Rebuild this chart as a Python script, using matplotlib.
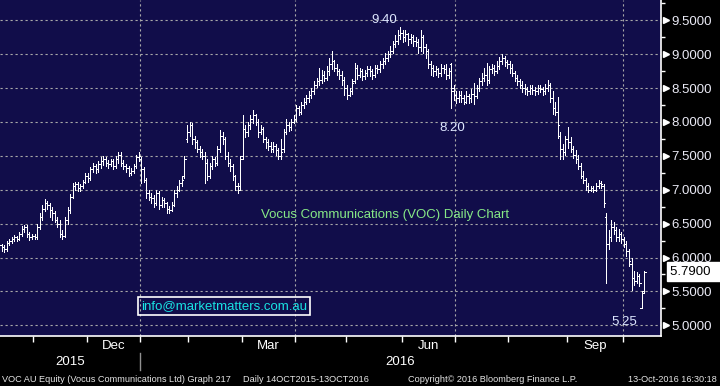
import numpy as np
import pandas as pd
import matplotlib
matplotlib.use('Agg')
import matplotlib.pyplot as plt
from matplotlib.collections import LineCollection
from matplotlib.transforms import blended_transform_factory as blend

plt.rcParams['font.family'] = ['Liberation Sans', 'DejaVu Sans']

# ASX trading days 14-Oct-2015 .. 13-Oct-2016
holidays = ['2015-12-25', '2015-12-28', '2016-01-01', '2016-01-26',
            '2016-03-25', '2016-03-28', '2016-04-25', '2016-06-13']
dates = pd.bdate_range('2015-10-14', '2016-10-13')
dates = dates[~dates.isin(pd.to_datetime(holidays))]

opens = np.array("""
6.18 6.15 6.12 6.22 6.25 6.28 6.30 6.28 6.35 6.42
6.45 6.35 6.30 6.32 6.30 6.45 6.60 6.72 6.80 6.78
6.70 6.65 6.55 6.50 6.35 6.32 6.55 6.70 6.90 7.05
7.08 7.02 7.05 7.12 7.20 7.18 7.30 7.35 7.30 7.38
7.42 7.45 7.40 7.38 7.42 7.35 7.45 7.52 7.40 7.35
7.32 7.25 7.28 7.35 7.48 7.45 7.30 7.15 6.95 6.90
6.88 6.80 6.95 6.78 6.85 6.80 6.72 6.70 6.78 6.95
7.00 7.10 7.20 7.75 7.85 7.95 7.75 7.70 7.60 7.55
7.50 7.40 7.20 7.35 7.45 7.40 7.60 7.80 7.75 7.50
7.40 7.35 7.20 7.05 7.05 7.50 7.90 7.85 7.95 8.05
8.10 8.00 7.85 7.90 7.75 7.70 7.65 7.60 7.65 7.58
7.50 7.60 7.85 7.95 7.92 8.00 8.05 8.20 8.15 8.25
8.30 8.35 8.40 8.45 8.55 8.60 8.62 8.70 8.65 8.75
8.85 8.90 8.80 8.75 8.70 8.62 8.50 8.40 8.45 8.60
8.80 8.70 8.75 8.68 8.72 8.78 8.75 8.70 8.80 8.78
8.85 8.90 8.95 9.00 9.05 9.15 9.20 9.28 9.32 9.25
9.30 9.22 9.25 9.20 9.18 9.10 9.25 9.10 9.05 8.85
8.80 8.75 8.78 8.72 8.80 8.78 8.70 8.85 8.50 8.40
8.35 8.40 8.35 8.30 8.38 8.35 8.42 8.38 8.50 8.60
8.65 8.70 8.62 8.78 8.80 8.75 8.82 8.90 8.95 8.88
8.85 8.80 8.72 8.65 8.60 8.55 8.50 8.48 8.45 8.50
8.47 8.45 8.50 8.48 8.45 8.50 8.55 8.35 8.20 8.15
7.80 7.60 7.55 7.75 7.70 7.60 7.52 7.45 7.35 7.20
7.15 7.05 7.00 7.02 7.00 7.05 7.10 7.05 6.60 6.20
6.30 6.45 6.40 6.30 6.35 6.28 6.20 6.10 5.90 5.70
5.65 5.72 5.25 5.50
""".split(), float)

highs = np.array("""
6.20 6.18 6.25 6.28 6.30 6.33 6.32 6.38 6.46 6.48
6.48 6.38 6.35 6.35 6.50 6.65 6.78 6.87 6.84 6.80
6.75 6.68 6.60 6.55 6.40 6.60 6.75 6.93 7.10 7.12
7.12 7.08 7.15 7.24 7.24 7.34 7.40 7.38 7.42 7.48
7.50 7.48 7.44 7.46 7.45 7.50 7.56 7.55 7.44 7.38
7.35 7.32 7.38 7.52 7.55 7.48 7.33 7.18 7.00 6.95
6.92 7.00 6.98 6.90 6.88 6.82 6.76 6.82 7.00 7.05
7.14 7.20 7.50 7.95 8.00 7.98 7.80 7.74 7.65 7.60
7.55 7.45 7.40 7.50 7.48 7.65 7.88 7.85 7.78 7.55
7.45 7.38 7.22 7.10 7.50 8.10 7.95 8.00 8.10 8.17
8.12 8.05 7.95 7.92 7.78 7.75 7.70 7.70 7.68 7.62
7.75 7.90 8.05 8.00 8.05 8.10 8.25 8.24 8.30 8.35
8.40 8.45 8.50 8.60 8.65 8.80 8.76 8.75 8.82 8.95
9.05 8.92 8.85 8.78 8.75 8.66 8.55 8.50 8.64 8.87
8.84 8.80 8.78 8.76 8.82 8.82 8.78 8.84 8.84 8.90
8.95 9.02 9.05 9.12 9.20 9.28 9.35 9.40 9.36 9.35
9.32 9.30 9.28 9.25 9.22 9.35 9.28 9.15 9.08 8.90
8.84 8.82 8.80 8.85 8.84 8.85 8.80 8.87 8.55 8.45
8.46 8.45 8.40 8.45 8.42 8.48 8.58 8.55 8.65 8.72
8.80 8.87 8.82 8.86 8.84 8.90 8.96 9.00 8.97 8.92
8.90 8.85 8.75 8.70 8.64 8.60 8.56 8.52 8.55 8.55
8.52 8.55 8.54 8.52 8.56 8.62 8.58 8.45 8.30 8.37
7.85 7.68 7.80 7.92 7.78 7.65 7.58 7.52 7.40 7.28
7.18 7.10 7.06 7.05 7.10 7.14 7.13 7.08 6.65 6.40
6.55 6.52 6.45 6.42 6.38 6.30 6.25 6.12 6.00 5.80
5.78 5.76 5.50 5.80
""".split(), float)

lows = np.array("""
6.10 6.08 6.10 6.18 6.22 6.24 6.24 6.26 6.32 6.38
6.30 6.26 6.27 6.27 6.28 6.42 6.56 6.68 6.72 6.60
6.55 6.52 6.45 6.30 6.28 6.30 6.50 6.66 6.88 7.00
6.98 6.98 7.02 7.10 7.12 7.15 7.26 7.25 7.26 7.32
7.36 7.35 7.32 7.35 7.30 7.32 7.40 7.35 7.30 7.26
7.20 7.22 7.25 7.32 7.42 7.10 7.12 6.88 6.85 6.80
6.74 6.78 6.72 6.74 6.75 6.66 6.65 6.68 6.76 6.90
6.98 7.05 7.18 7.70 7.80 7.68 7.62 7.55 7.48 7.45
7.10 7.15 7.18 7.30 7.35 7.36 7.55 7.68 7.45 7.35
7.28 7.15 7.00 6.95 7.00 7.45 7.78 7.80 7.90 7.98
7.95 7.78 7.82 7.70 7.62 7.58 7.55 7.56 7.52 7.45
7.45 7.55 7.82 7.86 7.88 7.98 8.02 8.10 8.12 8.20
8.26 8.30 8.35 8.42 8.52 8.55 8.58 8.60 8.62 8.70
8.78 8.75 8.70 8.64 8.55 8.40 8.34 8.38 8.42 8.58
8.64 8.66 8.62 8.64 8.68 8.68 8.64 8.66 8.72 8.74
8.80 8.86 8.90 8.96 9.02 9.10 9.15 9.22 9.18 9.20
9.14 9.16 9.12 9.12 9.02 9.05 9.02 8.95 8.80 8.70
8.68 8.70 8.66 8.68 8.72 8.64 8.65 8.20 8.32 8.28
8.30 8.30 8.26 8.28 8.28 8.30 8.27 8.35 8.46 8.55
8.60 8.55 8.58 8.72 8.70 8.72 8.78 8.85 8.82 8.80
8.73 8.68 8.60 8.55 8.50 8.44 8.42 8.40 8.42 8.42
8.40 8.42 8.44 8.40 8.42 8.45 8.30 8.12 8.10 7.77
7.45 7.45 7.52 7.62 7.55 7.47 7.40 7.30 7.17 7.10
7.00 6.97 6.98 6.97 6.98 7.02 7.02 6.75 5.62 6.12
6.25 6.35 6.25 6.25 6.22 6.15 6.02 5.88 5.52 5.60
5.62 5.58 5.25 5.48
""".split(), float)

closes = np.array("""
6.15 6.12 6.22 6.25 6.28 6.30 6.28 6.35 6.42 6.45
6.35 6.30 6.32 6.30 6.45 6.60 6.72 6.80 6.78 6.70
6.65 6.55 6.50 6.35 6.32 6.55 6.70 6.90 7.05 7.08
7.02 7.05 7.12 7.20 7.18 7.30 7.35 7.30 7.38 7.42
7.45 7.40 7.38 7.42 7.35 7.45 7.52 7.40 7.35 7.32
7.25 7.28 7.35 7.48 7.50 7.30 7.15 6.95 6.90 6.88
6.80 6.95 6.78 6.85 6.80 6.72 6.70 6.78 6.95 7.00
7.10 7.15 7.45 7.85 7.95 7.75 7.70 7.60 7.55 7.50
7.40 7.20 7.35 7.45 7.40 7.60 7.80 7.75 7.50 7.40
7.35 7.20 7.05 7.00 7.45 7.90 7.85 7.95 8.05 8.10
8.00 7.85 7.90 7.75 7.70 7.65 7.60 7.65 7.58 7.50
7.55 7.85 7.95 7.92 8.00 8.05 8.20 8.15 8.25 8.30
8.35 8.40 8.45 8.55 8.60 8.62 8.70 8.65 8.75 8.85
8.90 8.80 8.75 8.70 8.62 8.50 8.40 8.45 8.58 8.80
8.70 8.75 8.68 8.72 8.78 8.75 8.70 8.80 8.78 8.85
8.90 8.95 9.00 9.05 9.15 9.20 9.28 9.32 9.25 9.30
9.22 9.25 9.20 9.18 9.10 9.25 9.10 9.05 8.85 8.80
8.75 8.78 8.72 8.80 8.78 8.70 8.75 8.45 8.40 8.35
8.40 8.35 8.30 8.38 8.35 8.42 8.38 8.50 8.60 8.65
8.70 8.62 8.78 8.80 8.75 8.82 8.90 8.95 8.88 8.85
8.80 8.72 8.65 8.60 8.55 8.50 8.48 8.45 8.50 8.47
8.45 8.50 8.48 8.45 8.50 8.55 8.35 8.20 8.15 7.95
7.60 7.55 7.75 7.70 7.60 7.52 7.45 7.35 7.20 7.15
7.05 7.00 7.02 7.00 7.05 7.10 7.08 6.80 6.20 6.30
6.45 6.40 6.30 6.35 6.28 6.20 6.10 5.95 5.70 5.65
5.72 5.62 5.47 5.79
""".split(), float)

last_price = 5.79
price_ticks = np.arange(5.0, 9.51, 0.5)

navy = '#110d4a'
fig = plt.figure(figsize=(7.2, 3.86), dpi=100, facecolor='black')
ax = fig.add_axes([0, 50 / 386, 661 / 720, 336 / 386])
ax.set_facecolor(navy)
ax.set_xlim(-0.6, 259.6)
ax.set_ylim(4.842, 9.80)

# OHLC bars
x = np.arange(len(dates))
w = 0.55
segs = []
for i in x:
    segs.append([(i, lows[i]), (i, highs[i])])
    segs.append([(i - w, opens[i]), (i, opens[i])])
    segs.append([(i, closes[i]), (i + w, closes[i])])
ax.add_collection(LineCollection(segs, colors='white', linewidths=0.6,
                                 antialiaseds=False, zorder=3))

# month boundaries
mon = dates.month.values
bounds = [i - 0.5 for i in range(1, len(dates)) if mon[i] != mon[i - 1]]
bmon = [mon[int(b + 0.5)] for b in bounds]
ax.set_xticks(bounds)
ax.tick_params(axis='x', length=4, width=1, color='white', direction='out', labelbottom=False)
for b, m in zip(bounds, bmon):
    if m in (1, 4, 7, 10):
        ax.axvline(b, color='#a8a8a8', lw=0.8, ls=(0, (2, 2.5)), zorder=1)
for p in price_ticks:
    ax.axhline(p, color='#a8a8a8', lw=0.8, ls=(0, (2, 2.5)), zorder=1)

# month / year labels
tb = blend(ax.transData, fig.transFigure)
edges = [ax.get_xlim()[0]] + bounds + [ax.get_xlim()[1]]
for k in range(len(edges) - 1):
    m = mon[min(int(np.ceil(edges[k])), len(mon) - 1)]
    name = {12: 'Dec', 3: 'Mar', 6: 'Jun', 9: 'Sep'}.get(m)
    if name and k > 0:
        ax.text((edges[k] + edges[k + 1]) / 2, 1 - 346 / 386, name, transform=tb,
                ha='center', va='center', color='white', fontsize=9.5)
jan = bounds[bmon.index(1)]
ax.text((edges[0] + jan) / 2, 1 - 362 / 386, '2015', transform=tb,
        ha='center', va='center', color='white', fontsize=9.5)
ax.text((jan + edges[-1]) / 2, 1 - 362 / 386, '2016', transform=tb,
        ha='center', va='center', color='white', fontsize=9.5)
ax.plot([jan, jan], [1 - 353 / 386, 1 - 370 / 386], transform=tb, color='#909090',
        lw=1, clip_on=False)

# right price axis
ax.yaxis.tick_right()
ax.set_yticks(price_ticks, labels=[f'{v:.4f}' for v in price_ticks])
ax.set_yticks(price_ticks + 0.25, minor=True)
ax.tick_params(axis='y', which='major', length=0, pad=7.5, labelsize=9.5, labelcolor='#eaeaf5')
ax.tick_params(axis='y', which='minor', length=3, width=1, color='white', direction='out')
ax.plot(np.full(len(price_ticks), 1.0076), price_ticks, ls='none', marker='>', ms=4.5,
        color='white', transform=ax.get_yaxis_transform(), clip_on=False)
for s in ['left', 'top']:
    ax.spines[s].set_visible(False)
for s in ['right', 'bottom']:
    ax.spines[s].set_color('white')
    ax.spines[s].set_linewidth(1.2)

fy = blend(fig.transFigure, ax.transData)
fig.text(670 / 720, last_price, f'{last_price:.4f}  ', transform=fy, ha='left', va='center',
         fontsize=9.5, color='black', zorder=10,
         bbox=dict(boxstyle='square,pad=0.25', fc='white', ec='white'))

# annotations
lab = '#dde6ff'
ax.text(0.582, 1 - 20 / 336, '9.40', transform=ax.transAxes, ha='center', va='center',
        color=lab, fontsize=9.5)
ax.text(452 / 661, 1 - 128 / 336, '8.20', transform=ax.transAxes, ha='center', va='center',
        color=lab, fontsize=9.5)
ax.text(624 / 661, 1 - 322 / 336, '5.25', transform=ax.transAxes, ha='center', va='center',
        color=lab, fontsize=9.5)
ax.text(385 / 661, 1 - 215 / 336, 'Vocus Communications (VOC) Daily Chart',
        transform=ax.transAxes, ha='center', va='center', color='#86e886', fontsize=9.5)
ax.text(141 / 661, 1 - 306 / 336, 'info@marketmatters.com.au', transform=ax.transAxes,
        ha='left', va='center', color='#19e3e3', fontsize=9.5,
        bbox=dict(boxstyle='square,pad=0.2', fc='none', ec='white', lw=1.2))

# footer
fc = '#e6e6e6'
fig.text(2 / 720, 1 - 379 / 386, 'VOC AU Equity (Vocus Communications Ltd) Graph 217',
         ha='left', va='center', color=fc, fontsize=6.6)
fig.text(243 / 720, 1 - 379 / 386, 'Daily 14OCT2015-13OCT2016',
         ha='left', va='center', color=fc, fontsize=6.6)
fig.text(408 / 720, 1 - 379 / 386, 'Copyright\u00a9 2016 Bloomberg Finance L.P.',
         ha='left', va='center', color=fc, fontsize=6.6)
fig.text(717 / 720, 1 - 379 / 386, '13-Oct-2016 16:30:18',
         ha='right', va='center', color=fc, fontsize=6.6)

fig.savefig('out.png', dpi=100, facecolor='black')
